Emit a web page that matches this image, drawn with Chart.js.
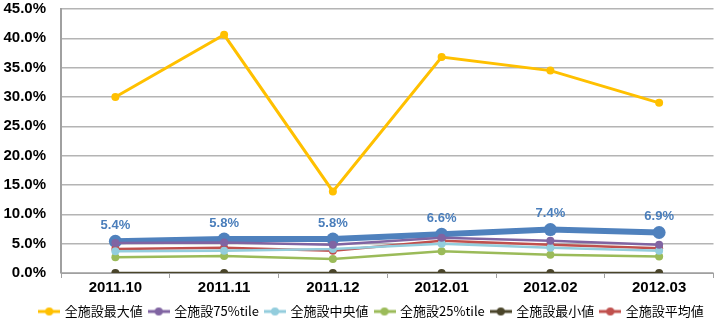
<!DOCTYPE html>
<html><head><meta charset="utf-8">
<script src="https://cdn.jsdelivr.net/npm/chart.js@4/dist/chart.umd.min.js"></script>
<style>html,body{margin:0;padding:0;background:#fff;}#wrap{width:720px;height:321px;}</style>
</head><body><div id="wrap"><canvas id="c" width="720" height="321"></canvas></div>
<script>
const categories = ['2011.10','2011.11','2011.12','2012.01','2012.02','2012.03'];
const seriesNames = ['全施設最大値','全施設75%tile','全施設中央値','全施設25%tile','全施設最小値','全施設平均値'];
const maxVals = [30.0, 40.6, 13.9, 36.8, 34.5, 29.0];
const p75Vals = [5.1, 5.2, 4.8, 6.0, 5.5, 4.8];
const medVals = [3.7, 3.8, 4.1, 5.0, 4.3, 3.8];
const p25Vals = [2.7, 2.9, 2.4, 3.7, 3.1, 2.8];
const minVals = [0, 0, 0, 0, 0, 0];
const avgVals = [4.1, 4.3, 3.8, 5.5, 4.8, 4.2];
const ownVals = [5.4, 5.8, 5.8, 6.6, 7.4, 6.9];
const yTicks = [0,5,10,15,20,25,30,35,40,45];

const colors = ['#FFC000','#8064A2','#93CDDD','#9BBB59','#4A452A','#C0504D'];
const ownColor = '#4F81BD';

function legendImg(color){
  const c = document.createElement('canvas'); c.width = 22; c.height = 10;
  const x = c.getContext('2d');
  x.strokeStyle = color; x.lineWidth = 3;
  x.beginPath(); x.moveTo(0,5); x.lineTo(22,5); x.stroke();
  x.fillStyle = color; x.beginPath(); x.arc(11,5,4,0,Math.PI*2); x.fill();
  return c;
}

const allVals = [maxVals,p75Vals,medVals,p25Vals,minVals,avgVals];
const datasets = allVals.map((v,i)=>({
  label: seriesNames[i], data: v, borderColor: colors[i], backgroundColor: colors[i],
  borderWidth: i===0 ? 3 : 2.5, pointRadius: 4, pointBorderWidth: 0, tension: 0, order: 1
}));
datasets.push({label:'own', data: ownVals, borderColor: ownColor, backgroundColor: ownColor,
  borderWidth: 6, pointRadius: 6.5, pointBorderWidth: 0, tension: 0, order: 5});

const labelPlugin = {
  id: 'ownLabels',
  afterLayout(chart){
    if (chart.legend) { chart.legend.left += 13; chart.legend.right += 13; }
  },
  afterDatasetsDraw(chart){
    const idx = chart.data.datasets.length-1;
    const meta = chart.getDatasetMeta(idx);
    const ctx = chart.ctx;
    ctx.save();
    ctx.font = 'bold 13px "Liberation Sans", Arial, sans-serif';
    ctx.fillStyle = '#4A7EBB'; ctx.textAlign = 'center'; ctx.textBaseline = 'middle';
    meta.data.forEach((pt,i)=>{
      ctx.fillText(ownVals[i].toFixed(1)+'%', pt.x, pt.y - 16);
    });
    ctx.restore();
  }
};

new Chart(document.getElementById('c'), {
  type: 'line',
  data: { labels: categories, datasets },
  plugins: [labelPlugin],
  options: {
    responsive: false, animation: false, devicePixelRatio: 1,
    layout: { padding: { top: 9, right: 2, left: 0, bottom: -7 } },
    plugins: {
      tooltip: { enabled: false },
      legend: {
        position: 'bottom',
        labels: {
          usePointStyle: true, pointStyleWidth: 18, padding: 7, boxHeight: 10,
          color: '#000', font: { size: 13, family: '"Noto Sans CJK JP", sans-serif' },
          generateLabels(chart){
            return seriesNames.map((n,i)=>({
              text: n, pointStyle: legendImg(colors[i]), fillStyle: colors[i],
              strokeStyle: colors[i], lineWidth: 0, hidden: false, datasetIndex: i, fontColor: '#000'
            }));
          }
        }
      }
    },
    scales: {
      x: {
        offset: true,
        grid: { display: true, offset: true, drawOnChartArea: false, drawTicks: true, tickLength: 5, color: '#a0a0a0' },
        border: { color: '#a0a0a0' },
        ticks: { color: '#000', font: { size: 15, weight: 'bold', family: '"Liberation Sans", Arial, sans-serif' }, padding: 1, maxRotation: 0 }
      },
      y: {
        min: 0, max: 45,
        afterBuildTicks(s){ s.ticks = yTicks.map(v=>({value:v})); },
        afterFit(s){ s.width = 61; s.paddingTop = 0; s.paddingBottom = 0; },
        grid: { color: '#b4b4b4', lineWidth: 1.5, drawTicks: false },
        border: { color: '#a0a0a0', width: 2 },
        ticks: { color: '#000', padding: 15, font: { size: 15, weight: 'bold', family: '"Liberation Sans", Arial, sans-serif' },
          callback: v => Number(v).toFixed(1)+'%' }
      }
    }
  }
});
</script></body></html>
